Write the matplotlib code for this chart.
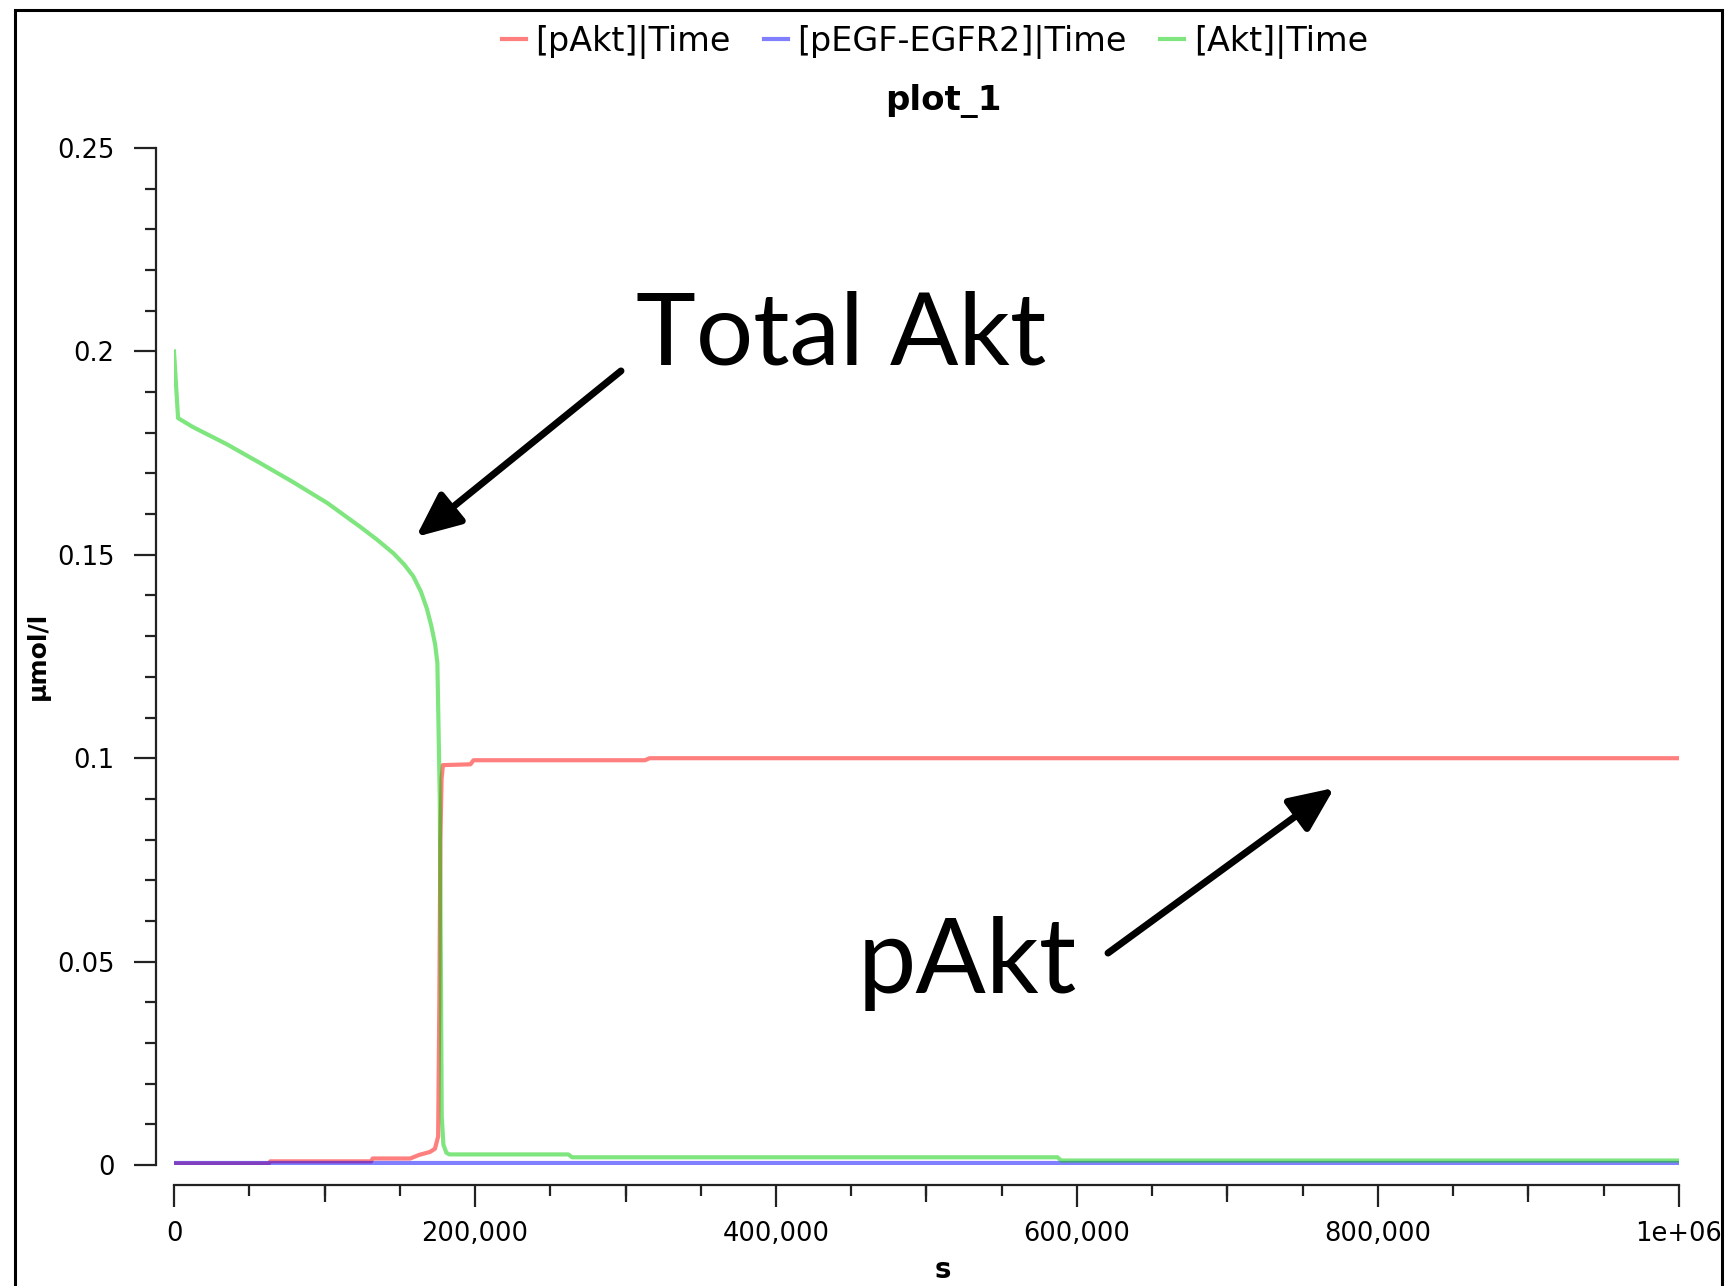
import matplotlib
matplotlib.use('Agg')
import matplotlib.pyplot as plt
import matplotlib.patches as patches
import numpy as np

# data (time in s, concentration in umol/l)
t_pakt = [0, 63000, 64000, 131000, 132000, 157000, 163000, 170000, 173400, 175500,
          176300, 177000, 177800, 178700, 197000, 199000, 313000, 316000, 1000000]
v_pakt = [0.0004, 0.0004, 0.0009, 0.0009, 0.0016, 0.0016, 0.0025, 0.0032, 0.0040, 0.0070,
          0.040, 0.080, 0.095, 0.0983, 0.0985, 0.0995, 0.0995, 0.1000, 0.1000]

t_egfr = [0, 250000, 500000, 750000, 1000000]
v_egfr = [0.0004, 0.0004, 0.0004, 0.0004, 0.0004]

t_akt = [0, 2700, 12600, 35000, 57000, 79000, 102000, 124000, 135000, 146000, 153000,
         159000, 164000, 168000, 171000, 173500, 175000, 175800, 176600, 177300, 177900,
         179000, 181000, 183000, 262000, 264500, 587000, 589500, 1000000]
v_akt = [0.200, 0.1836, 0.1814, 0.1772, 0.1726, 0.1679, 0.1627, 0.1568, 0.1537, 0.1503, 0.1476,
         0.1447, 0.1410, 0.1368, 0.1325, 0.1280, 0.1234, 0.107, 0.090, 0.050, 0.012,
         0.005, 0.003, 0.0026, 0.0026, 0.0019, 0.0019, 0.0011, 0.0011]

series_labels = ['[pAkt]|Time', '[pEGF-EGFR2]|Time', '[Akt]|Time']
series_colors = ['#ff0000', '#0000ff', '#00cc00']

x_major = [0, 200000, 400000, 600000, 800000, 1000000]
x_major_labels = ['0', '200,000', '400,000', '600,000', '800,000', '1e+06']
x_mid = [100000, 300000, 500000, 700000, 900000]
y_major = [0, 0.05, 0.1, 0.15, 0.2, 0.25]
y_major_labels = ['0', '0.05', '0.1', '0.15', '0.2', '0.25']

W, H = 1725, 1286
fig = plt.figure(figsize=(W / 100, H / 100), dpi=100)
ax = fig.add_axes([174 / W, 1 - 1165 / H, 1505 / W, 1017 / H])

for t, v, lab, col in zip([t_pakt, t_egfr, t_akt], [v_pakt, v_egfr, v_akt], series_labels, series_colors):
    ax.plot(t, v, color=col, lw=3, alpha=0.5, label=lab, solid_joinstyle='round')

ax.set_xlim(0, 1000000)
ax.set_ylim(0, 0.25)

for s in ['top', 'right']:
    ax.spines[s].set_visible(False)
ax.spines['left'].set_position(('outward', 18 * 0.72))
ax.spines['bottom'].set_position(('outward', 20 * 0.72))
for s in ['left', 'bottom']:
    ax.spines[s].set_linewidth(1.6)
    ax.spines[s].set_color('#222222')

ax.set_yticks(y_major)
ax.set_yticklabels(y_major_labels)
ax.set_yticks(np.arange(0, 0.2501, 0.01), minor=True)
ax.set_xticks(x_major)
ax.set_xticklabels(x_major_labels)
ax.set_xticks(np.arange(0, 1000001, 50000), minor=True)

ax.tick_params(which='major', length=16, width=1.6, color='#222222', labelsize=18.5, pad=10)
ax.tick_params(which='minor', length=8, width=1.6, color='#222222')
ax.tick_params(axis='y', which='major', pad=14)

# medium ticks at odd 100,000s
sec = ax.secondary_xaxis(-20 / 1017)
sec.set_xticks(x_mid)
sec.tick_params(length=12, width=1.6, color='#222222', labelbottom=False)
sec.spines['bottom'].set_visible(False)

fig.text(38 / W, 1 - 656 / H, 'µmol/l', rotation=90, ha='center', va='center',
         fontsize=18, fontweight='bold')
fig.text(943 / W, 1 - 1270 / H, 's', ha='center', va='center', fontsize=20, fontweight='bold')
fig.text(943 / W, 1 - 101 / H, 'plot_1', ha='center', va='center', fontsize=24.5, fontweight='bold')

fig.legend(loc='center', bbox_to_anchor=(935 / W, 1 - 42 / H), ncol=3, frameon=False,
           fontsize=24, handlelength=0.7, handletextpad=0.3, columnspacing=1.0)

# annotations
ax.text(307000, 0.1967, 'Total Akt', fontsize=73, family='Lato', va='baseline', ha='left')
ax.text(454500, 0.0423, 'pAkt', fontsize=75, family='Lato', va='baseline', ha='left')
arrow_kw = dict(arrowstyle='-|>,head_length=0.45,head_width=0.2', lw=5, color='black',
                mutation_scale=60, shrinkA=0, shrinkB=0)
ax.annotate('', xy=(160800, 0.1544), xytext=(297000, 0.1952), arrowprops=arrow_kw)
ax.annotate('', xy=(771000, 0.0927), xytext=(620600, 0.0521), arrowprops=arrow_kw)

# window frame
fig.patches.append(patches.Rectangle((15 / W, -0.05), (1722 - 15) / W, 1 - 10 / H + 0.05,
                                     transform=fig.transFigure, fill=False, lw=2.2,
                                     edgecolor='black'))

fig.savefig('out.png', dpi=100)
